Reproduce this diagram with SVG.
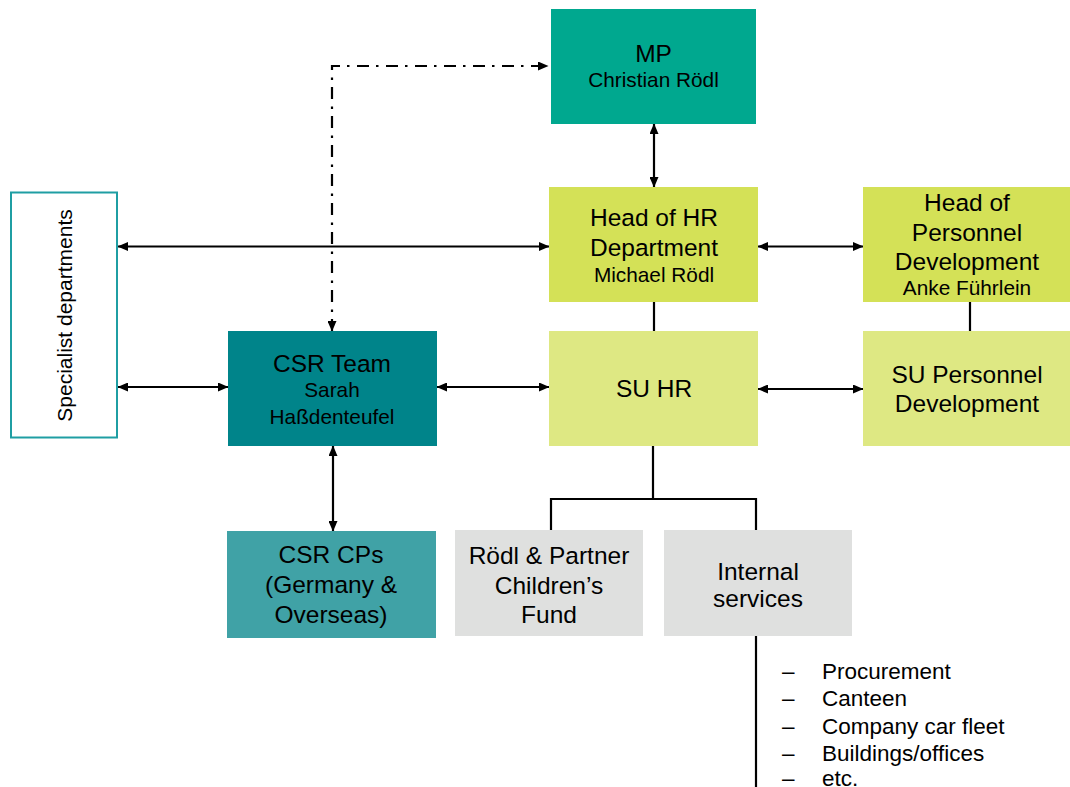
<svg xmlns="http://www.w3.org/2000/svg" width="1070" height="787" viewBox="0 0 1070 787">
  <defs>
    <marker id="arrow" markerUnits="userSpaceOnUse" markerWidth="11" markerHeight="9" refX="10" refY="4.5" orient="auto-start-reverse">
      <path d="M0,0 L10.5,4.5 L0,9 z" fill="#000"/>
    </marker>
    <style>
      text { font-family: "Liberation Sans", Arial, sans-serif; fill: #000; text-anchor: middle; }
      .big { font-size: 24.5px; }
      .small { font-size: 20.8px; }
      .list { font-size: 22.5px; text-anchor: start; }
      .link { fill: none; stroke: #000; stroke-width: 2.2; }
      .arr { marker-start: url(#arrow); marker-end: url(#arrow); }
      .dashdot { stroke-dasharray: 12 7 2.5 7.5; }
    </style>
  </defs>

  <rect width="1070" height="787" fill="#fff"/>

  <!-- connectors -->
  <g id="connectors">
    <path class="link arr dashdot" d="M332,331 V66 H548"/>
    <path class="link arr" d="M654,124 V187"/>
    <path class="link arr" d="M118,246.5 H549"/>
    <path class="link arr" d="M758,246.5 H863"/>
    <path class="link" d="M654,302 V331"/>
    <path class="link" d="M970,302 V331"/>
    <path class="link arr" d="M118,387 H228"/>
    <path class="link arr" d="M437,387 H549"/>
    <path class="link arr" d="M758,389 H863"/>
    <path class="link arr" d="M333,446 V531"/>
    <path class="link" d="M653,446 V499 M551,531 V499 H756 V531"/>
    <path class="link" d="M756,636 V787"/>
  </g>

  <!-- nodes -->
  <g id="mp">
    <rect x="551" y="9" width="205" height="115" fill="#00A88F"/>
    <text class="big" x="653.5" y="62">MP</text>
    <text class="small" x="653.5" y="87">Christian Rödl</text>
  </g>

  <g id="specialist-departments">
    <rect x="11" y="192.5" width="106" height="245" fill="#fff" stroke="#1F9EA3" stroke-width="2"/>
    <text transform="translate(72 315.5) rotate(-90)" style="font-size:21px">Specialist departments</text>
  </g>

  <g id="head-hr">
    <rect x="549" y="187" width="209" height="115" fill="#D4E157"/>
    <text class="big" x="654" y="226">Head of HR</text>
    <text class="big" x="654" y="255.5">Department</text>
    <text class="small" x="654" y="282">Michael Rödl</text>
  </g>

  <g id="head-personnel-development">
    <rect x="863" y="187" width="207" height="115" fill="#D4E157"/>
    <text class="big" x="967" y="211">Head of</text>
    <text class="big" x="967" y="240.5">Personnel</text>
    <text class="big" x="967" y="270">Development</text>
    <text class="small" x="967" y="295">Anke Führlein</text>
  </g>

  <g id="csr-team">
    <rect x="228" y="331" width="209" height="115" fill="#00848A"/>
    <text class="big" x="332" y="372">CSR Team</text>
    <text class="small" x="332" y="397">Sarah</text>
    <text class="small" x="332" y="423.5">Haßdenteufel</text>
  </g>

  <g id="su-hr">
    <rect x="549" y="331" width="209" height="115" fill="#DEE883"/>
    <text class="big" x="654" y="397">SU HR</text>
  </g>

  <g id="su-personnel-development">
    <rect x="863" y="331" width="207" height="115" fill="#DEE883"/>
    <text class="big" x="967" y="382.5">SU Personnel</text>
    <text class="big" x="967" y="411.5">Development</text>
  </g>

  <g id="csr-cps">
    <rect x="227" y="531" width="209" height="107" fill="#40A2A6"/>
    <text class="big" x="331" y="563">CSR CPs</text>
    <text class="big" x="331" y="593">(Germany &amp;</text>
    <text class="big" x="331" y="623">Overseas)</text>
  </g>

  <g id="childrens-fund">
    <rect x="455" y="530" width="188" height="106" fill="#DFE0DF"/>
    <text class="big" x="549" y="563.5">Rödl &amp; Partner</text>
    <text class="big" x="549" y="593.5">Children’s</text>
    <text class="big" x="549" y="623">Fund</text>
  </g>

  <g id="internal-services">
    <rect x="664" y="530" width="188" height="106" fill="#DFE0DF"/>
    <text class="big" x="758" y="579.5">Internal</text>
    <text class="big" x="758" y="607">services</text>
  </g>

  <g id="internal-services-list">
    <text class="list" x="782" y="679">–</text>
    <text class="list" x="822" y="679">Procurement</text>
    <text class="list" x="782" y="706">–</text>
    <text class="list" x="822" y="706">Canteen</text>
    <text class="list" x="782" y="733.5">–</text>
    <text class="list" x="822" y="733.5">Company car fleet</text>
    <text class="list" x="782" y="760.5">–</text>
    <text class="list" x="822" y="760.5">Buildings/offices</text>
    <text class="list" x="782" y="786">–</text>
    <text class="list" x="822" y="786">etc.</text>
  </g>
</svg>
